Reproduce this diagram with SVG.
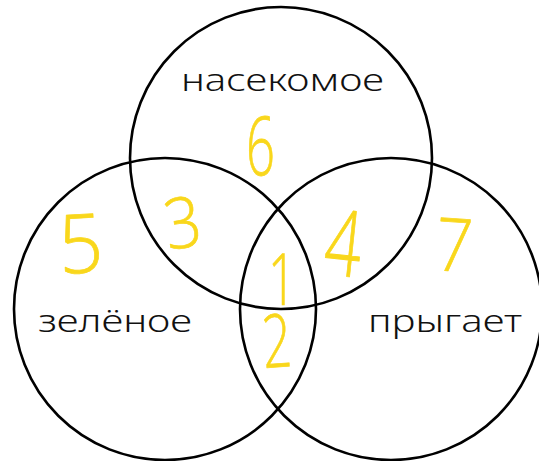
<svg xmlns="http://www.w3.org/2000/svg" width="539" height="461" viewBox="0 0 539 461">
<style>
.c{fill:none;stroke:#000;stroke-width:2.6}
.l{font-family:"Noto Sans","Open Sans",sans-serif;font-weight:300;font-size:31px;fill:#111}
.n{font-family:"Open Sans","Noto Sans",sans-serif;font-weight:300;font-size:82px;fill:#f9d71c;stroke:#f9d71c;stroke-width:0.8;stroke-linejoin:round}
</style>
<rect width="539" height="461" fill="#fff"/>
<g id="insect"><circle class="c" cx="281" cy="158" r="151"/><text class="l" x="181" y="91" textLength="203" lengthAdjust="spacingAndGlyphs">насекомое</text></g>
<g id="green"><circle class="c" cx="165" cy="309" r="151"/><text class="l" x="38" y="332" textLength="154" lengthAdjust="spacingAndGlyphs">зелёное</text></g>
<g id="jumps"><circle class="c" cx="391" cy="309" r="151"/><text class="l" x="368" y="332" textLength="154" lengthAdjust="spacingAndGlyphs">прыгает</text></g>
<g id="numbers">
<text class="n" transform="translate(246,175) scale(0.62,1)">6</text>
<text class="n" transform="translate(60,274) rotate(-3) scale(0.95,1)">5</text>
<text class="n" transform="translate(168,250) rotate(-8) scale(0.78,0.86)">3</text>
<text class="n" transform="translate(322,274) rotate(6) scale(0.78,1.12)">4</text>
<text class="n" transform="translate(434,270) rotate(4) scale(0.78,0.9)">7</text>
<text class="n" transform="translate(268,305) scale(0.6,0.88)">1</text>
<text class="n" transform="translate(264,368) rotate(-4) scale(0.62,0.9)">2</text>
</g>
</svg>
